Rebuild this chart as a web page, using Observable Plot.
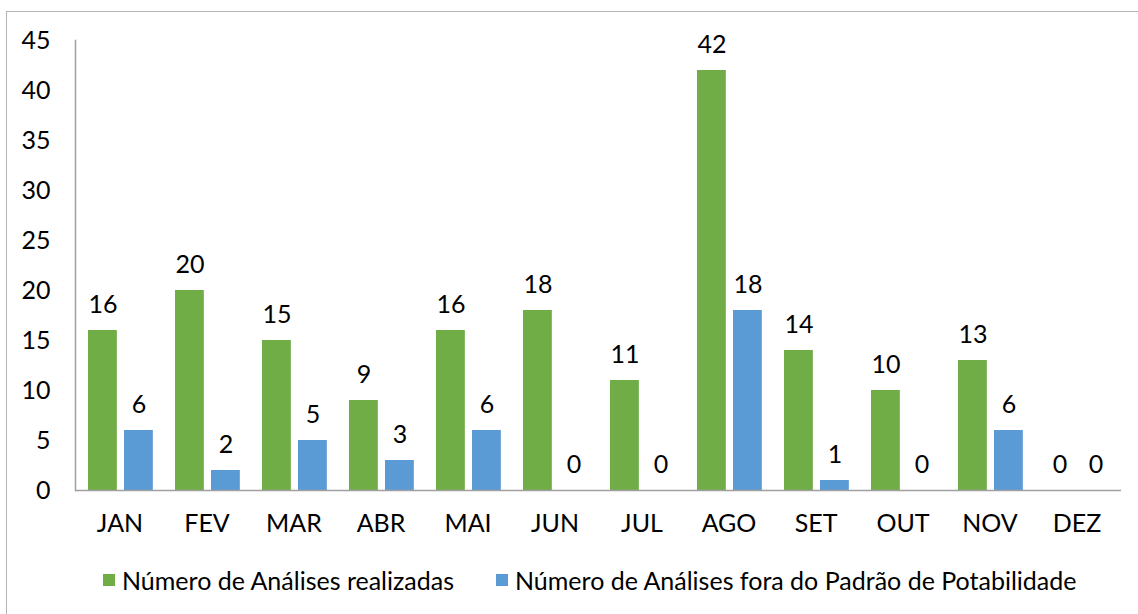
<!DOCTYPE html>
<html>
<head>
<meta charset="utf-8">
<script src="https://cdn.jsdelivr.net/npm/d3@7"></script>
<script src="https://cdn.jsdelivr.net/npm/@observablehq/plot@0.6"></script>
<style>
  html, body { margin: 0; padding: 0; background: #fff; }
  body { width: 1138px; height: 614px; position: relative; overflow: hidden; font-family: Lato, "Open Sans", sans-serif; }
  #frame { position: absolute; left: 6px; top: 11px; width: 1200px; height: 700px; border-left: 1.5px solid #b4b4b4; border-top: 1.5px solid #b4b4b4; }
  #chart { position: absolute; left: 0; top: 0; }
  #legend { position: absolute; left: 103px; top: 565px; display: flex; align-items: center; font-size: 25px; color: #000; white-space: nowrap; }
  .sw { display: inline-block; width: 12px; height: 12px; margin-right: 7px; }
  .item { display: flex; align-items: center; margin-right: 42px; }
</style>
</head>
<body>
<div id="frame"></div>
<div id="chart"></div>
<div id="legend"></div>
<script>
const months = ["JAN","FEV","MAR","ABR","MAI","JUN","JUL","AGO","SET","OUT","NOV","DEZ"];
const realizadas = [16,20,15,9,16,18,11,42,14,10,13,0];
const fora = [6,2,5,3,6,0,0,18,1,0,6,0];
const seriesNames = ["Número de Análises realizadas","Número de Análises fora do Padrão de Potabilidade"];
const colors = ["#70AD47","#5B9BD5"];
const yTicks = [0,5,10,15,20,25,30,35,40,45];

const dataA = months.map((m,i)=>({month:m, value:realizadas[i]}));
const dataB = months.map((m,i)=>({month:m, value:fora[i]}));

const W = 1138, ML = 75, MR = 17;
const bw = (W - ML - MR) / months.length;
const barW = 29;
const gL = 12, gB = 48;
const FS = 25;

const font = "Lato, 'Open Sans', sans-serif";
const plot = Plot.plot({
  width: W,
  height: 540,
  marginLeft: ML,
  marginRight: MR,
  marginTop: 40,
  marginBottom: 50,
  style: {fontFamily: font, fontSize: FS + "px", color: "#000", background: "transparent"},
  x: {domain: months, padding: 0, label: null},
  y: {domain: [0,45], label: null},
  marks: [
    Plot.barY(dataA, {x:"month", y:"value", fill: colors[0], insetLeft: gL, insetRight: bw - gL - barW}),
    Plot.barY(dataB, {x:"month", y:"value", fill: colors[1], insetLeft: gB, insetRight: bw - gB - barW}),
    Plot.text(dataA, {x:"month", y:"value", text: d=>String(d.value), dx: gL + barW/2 - bw/2, dy: -26, lineAnchor:"middle", fill:"#000", fontSize: FS}),
    Plot.text(dataB, {x:"month", y:"value", text: d=>String(d.value), dx: gB + barW/2 - bw/2, dy: -26, lineAnchor:"middle", fill:"#000", fontSize: FS}),
    Plot.axisY({ticks: yTicks, tickSize: 0, tickPadding: 25, label: null, fontSize: FS}),
    Plot.axisX({tickSize: 0, tickPadding: 24, label: null, fontSize: FS}),
    Plot.frame({anchor: "left", stroke: "#a0a0a0", strokeWidth: 1.5}),
    Plot.ruleY([0], {stroke: "#a0a0a0", strokeWidth: 1.5})
  ]
});
document.getElementById("chart").appendChild(plot);

const leg = document.getElementById("legend");
seriesNames.forEach((n,i)=>{
  const it = document.createElement("span");
  it.className = "item";
  const sw = document.createElement("span");
  sw.className = "sw";
  sw.style.background = colors[i];
  it.appendChild(sw);
  it.appendChild(document.createTextNode(n));
  leg.appendChild(it);
});
</script>
</body>
</html>
